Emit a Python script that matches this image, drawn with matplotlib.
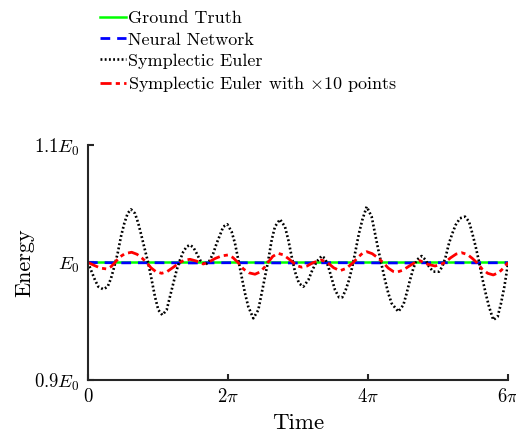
#!/usr/bin/env python3
import numpy as np
import matplotlib
matplotlib.use("Agg")
import matplotlib.pyplot as plt

plt.rcParams['font.family'] = 'serif'
plt.rcParams['font.serif'] = ['cmr10']
plt.rcParams['mathtext.fontset'] = 'cm'
plt.rcParams['axes.unicode_minus'] = False

# time in units of pi, energy deviation in units of 1e-3 E0
truth_t = [0.0, 6.0]
truth_e = [0.0, 0.0]

nn_t = [0.0, 0.5, 1.0, 1.5, 2.0, 2.5, 3.0, 3.5, 4.0, 4.5, 5.0, 5.5, 6.0]
nn_e = [0.0, -0.3, -0.2, -0.4, -0.2, -0.3, -0.4, -0.2, -0.3, -0.4, -0.2, -0.3, -0.2]

euler_t = [0.0, 0.052, 0.1, 0.148, 0.219, 0.281, 0.329, 0.376, 0.424, 0.471,
           0.519, 0.567, 0.614, 0.671, 0.719, 0.767, 0.814, 0.862, 0.91, 0.957,
           1.005, 1.062, 1.124, 1.171, 1.219, 1.267, 1.314, 1.362, 1.41, 1.457,
           1.505, 1.552, 1.6, 1.671, 1.729, 1.79, 1.838, 1.886, 1.933, 1.99,
           2.052, 2.1, 2.148, 2.195, 2.243, 2.29, 2.362, 2.433, 2.481, 2.529,
           2.576, 2.624, 2.671, 2.743, 2.814, 2.862, 2.91, 2.957, 3.014, 3.076,
           3.148, 3.205, 3.267, 3.338, 3.386, 3.433, 3.481, 3.529, 3.586, 3.633,
           3.681, 3.729, 3.776, 3.824, 3.871, 3.919, 3.981, 4.052, 4.1, 4.148,
           4.195, 4.243, 4.29, 4.338, 4.433, 4.505, 4.552, 4.6, 4.648, 4.695,
           4.767, 4.824, 4.871, 4.933, 5.014, 5.062, 5.11, 5.157, 5.205, 5.252,
           5.314, 5.386, 5.443, 5.49, 5.538, 5.586, 5.633, 5.681, 5.729, 5.79,
           5.852, 5.9, 5.948, 6.0]
euler_e = [0.0, -7.8, -14.9, -20.6, -22.8, -20.6, -13.5, -3.5, 7.8, 22.0,
           33.3, 41.8, 45.2, 41.8, 33.3, 22.0, 10.6, -0.7, -14.9, -29.1,
           -40.4, -44.7, -40.4, -29.1, -17.7, -6.4, 2.1, 9.2, 13.5, 14.9,
           12.9, 7.8, 2.1, -2.1, 0.7, 7.8, 16.3, 23.4, 30.5, 32.5,
           26.2, 16.3, 2.1, -12.1, -26.2, -37.6, -47.5, -40.4, -26.2, -12.1,
           2.1, 19.1, 30.5, 36.7, 30.5, 19.1, 5.0, -7.8, -17.7, -20.6,
           -14.9, -6.4, 0.7, 5.5, 3.5, -3.5, -13.5, -23.4, -29.6, -29.6,
           -23.4, -14.9, -3.5, 10.6, 24.8, 36.2, 47.5, 39.0, 24.8, 10.6,
           -2.1, -14.9, -26.2, -34.8, -41.8, -36.2, -26.2, -14.9, -5.0, 2.1,
           5.5, 2.1, -3.5, -7.8, -7.8, -3.5, 5.0, 16.3, 24.8, 31.9,
           37.6, 39.0, 34.8, 24.8, 13.5, 0.7, -13.5, -26.2, -37.6, -48.9,
           -46.1, -34.8, -20.6, -1.0]

fine_t = [0.0, 0.09, 0.18, 0.267, 0.33, 0.386, 0.45, 0.53, 0.624, 0.70,
          0.77, 0.839, 0.90, 0.97, 1.053, 1.13, 1.22, 1.314, 1.38, 1.457,
          1.55, 1.647, 1.73, 1.82, 1.91, 2.0, 2.07, 2.143, 2.22, 2.30,
          2.386, 2.46, 2.52, 2.571, 2.64, 2.714, 2.79, 2.87, 2.93, 2.99,
          3.053, 3.13, 3.22, 3.339, 3.42, 3.51, 3.6, 3.69, 3.79, 3.86,
          3.92, 3.981, 4.06, 4.14, 4.214, 4.29, 4.36, 4.41, 4.50, 4.59,
          4.671, 4.743, 4.85, 4.957, 5.03, 5.1, 5.18, 5.26, 5.338, 5.42,
          5.49, 5.553, 5.63, 5.71, 5.79, 5.87, 5.94, 6.0]
fine_e = [0.0, -2.5, -4.8, -5.5, -3.5, 0.0, 4.5, 7.6, 8.7, 7.0,
          3.8, 0.0, -4.5, -7.8, -9.2, -7.8, -4.0, 0.0, 2.0, 2.7,
          1.2, -1.3, 0.5, 3.5, 5.6, 6.4, 4.2, 0.0, -5.5, -8.8,
          -10.0, -8.0, -4.2, 0.0, 5.2, 7.8, 6.5, 3.0, 0.0, -2.8,
          -4.0, -3.0, 0.0, 2.0, 0.0, -4.5, -7.0, -5.0, 0.0, 4.5,
          7.8, 9.2, 7.5, 4.0, 0.0, -4.8, -7.6, -8.3, -6.5, -3.0,
          0.0, 1.5, -1.5, -3.0, -1.8, 0.0, 4.0, 7.2, 8.3, 6.8,
          3.5, 0.0, -5.5, -9.2, -10.6, -8.5, -4.5, 0.0]

labels = ['Ground Truth', 'Neural Network', 'Symplectic Euler',
          r'Symplectic Euler with $\times$10 points']


def to_xy(t, e):
    return np.array(t) * np.pi, 1.0 + np.array(e) * 1e-3


fig = plt.figure(figsize=(5.16, 4.34), dpi=100)
ax = fig.add_axes([0.1705, 0.1244, 0.814, 0.5416])

x, y = to_xy(truth_t, truth_e)
ax.plot(x, y, color='#00ff00', lw=1.8, label=labels[0])
x, y = to_xy(nn_t, nn_e)
ax.plot(x, y, color='#0000ff', lw=2.0, linestyle=(0, (3.5, 2.5)), label=labels[1])
x, y = to_xy(euler_t, euler_e)
ax.plot(x, y, color='black', lw=1.9, linestyle=(0, (0.7, 0.9)), label=labels[2])
x, y = to_xy(fine_t, fine_e)
ax.plot(x, y, color='#ff0000', lw=2.0, linestyle=(0, (4, 1.5, 1.5, 1.5)), label=labels[3])

ax.set_xlim(0, 6 * np.pi)
ax.set_ylim(0.9, 1.1)
ax.set_xticks([0, 2 * np.pi, 4 * np.pi, 6 * np.pi])
ax.set_xticklabels(['$0$', r'$2\pi$', r'$4\pi$', r'$6\pi$'], fontsize=13.5)
ax.set_yticks([0.9, 1.0, 1.1])
ax.set_yticklabels([r'$0.9E_0$', r'$E_0$', r'$1.1E_0$'], fontsize=13.5)

for s in ['top', 'right']:
    ax.spines[s].set_visible(False)
for s in ['left', 'bottom']:
    ax.spines[s].set_linewidth(1.5)
    ax.spines[s].set_color('#262626')
ax.tick_params(direction='in', length=4, width=1.5, color='#262626')
ax.tick_params(axis='y', pad=6)
ax.tick_params(axis='x', pad=6)

ax.set_xlabel('Time', fontsize=16.5, labelpad=5)
ax.set_ylabel('Energy', fontsize=16, labelpad=0)

fig.legend(loc='upper left', bbox_to_anchor=(0.193, 0.975), frameon=False,
           fontsize=13, handlelength=1.45, handletextpad=0.12, labelspacing=0.3,
           borderpad=0, borderaxespad=0)

fig.savefig('out.png', dpi=100)
